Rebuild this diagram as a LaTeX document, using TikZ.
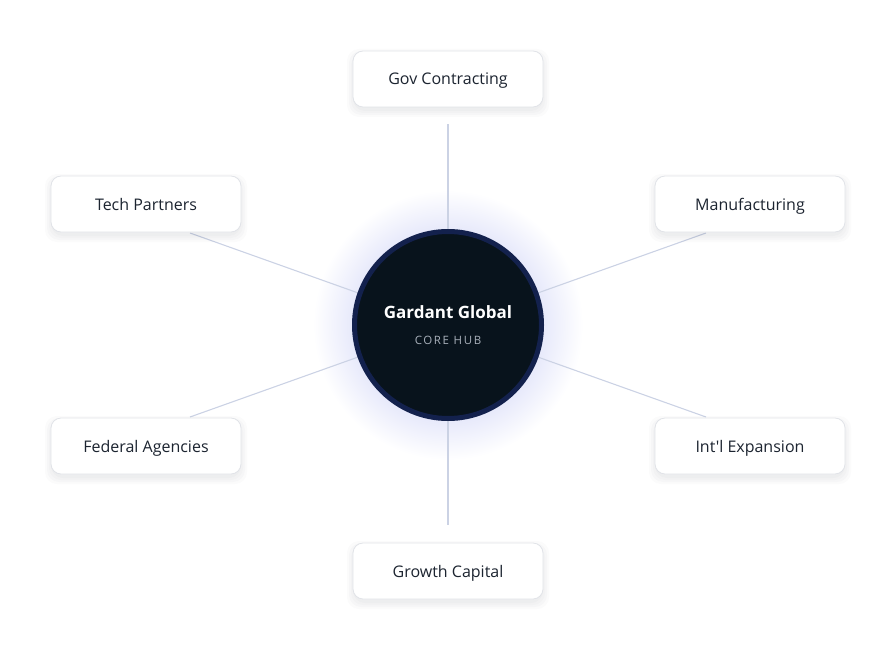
\documentclass[tikz,border=0pt]{standalone}
\usepackage{fontspec}
\setmainfont{Open Sans}[Ligatures=TeXOff]
\newfontfamily\spacedfont[LetterSpace=14]{Open Sans}
\definecolor{linec}{HTML}{CBD2E4}
\definecolor{boxborder}{HTML}{E1E3E8}
\definecolor{boxtext}{HTML}{1C2430}
\definecolor{hubfill}{HTML}{08131C}
\definecolor{hubring}{HTML}{13214D}
\definecolor{hubsub}{HTML}{A8B0BA}
\definecolor{glowc}{HTML}{E8EAFB}
\definecolor{shadowc}{HTML}{1A2030}
\pgfdeclareradialshading{hubglow}{\pgfpoint{0bp}{0bp}}{color(0bp)=(glowc); color(18bp)=(glowc); color(25bp)=(white); color(50bp)=(white)}
\tikzset{
  spoke/.style={draw=linec, line width=1.1pt},
  card/.style={draw=boxborder, line width=0.8pt, fill=white, rounded corners=10pt,
    minimum width=190pt, minimum height=56pt, inner sep=0pt,
    text height=12pt, text depth=0pt,
    font=\fontsize{16}{19}\selectfont, text=boxtext},
  cardshadow/.style={fill=shadowc, rounded corners=12pt, fill opacity=0.02, draw=none}
}
\begin{document}
\begin{tikzpicture}[x=1pt, y=-1pt]
  \useasboundingbox (0,0) rectangle (896,650);
  % glow
  \shade[shading=hubglow] (448,325) circle (135);
  % coordinates for spoke ends
  \coordinate (hubc) at (448,325);
  \coordinate (eTop) at (448,124);
  \coordinate (eBot) at (448,525);
  \coordinate (eTL) at (190,233);
  \coordinate (eTR) at (706,233);
  \coordinate (eBL) at (190,417);
  \coordinate (eBR) at (706,417);
  \foreach \c in {eTop,eBot,eTL,eTR,eBL,eBR}{
    \draw[spoke] (hubc) -- (\c);
  }
  % card shadows
  \coordinate (gov) at (448,79);
  \coordinate (tech) at (146,204);
  \coordinate (manu) at (750,204);
  \coordinate (fed) at (146,446);
  \coordinate (intl) at (750,446);
  \coordinate (growth) at (448,571);
  \foreach \n in {gov,tech,manu,fed,intl,growth}{
    \foreach \e in {0,2,4,6}{
      \fill[cardshadow] ([xshift=-95pt-\e pt, yshift=28pt-4pt+\e pt]\n) rectangle ([xshift=95pt+\e pt, yshift=-28pt-4pt-\e pt]\n);
    }
  }
  % cards
  \node[card] (govbox) at (gov) {Gov Contracting};
  \node[card] (techbox) at (tech) {Tech Partners};
  \node[card] (manubox) at (manu) {Manufacturing};
  \node[card] (fedbox) at (fed) {Federal Agencies};
  \node[card] (intlbox) at (intl) {Int'l Expansion};
  \node[card] (growthbox) at (growth) {Growth Capital};
  % hub
  \node[circle, fill=hubfill, draw=hubring, line width=5pt, minimum size=187pt, inner sep=0pt] (hub) at (hubc) {};
  \node[text=white, font=\fontsize{17}{20}\selectfont\bfseries, text height=12.5pt, text depth=0pt] (hubtitle) at (448,312) {Gardant Global};
  \node[text=hubsub, font=\spacedfont\fontsize{11.5}{13}\selectfont, text height=8.5pt, text depth=0pt] (hubsubt) at (448,340) {CORE HUB};
\end{tikzpicture}
\end{document}
